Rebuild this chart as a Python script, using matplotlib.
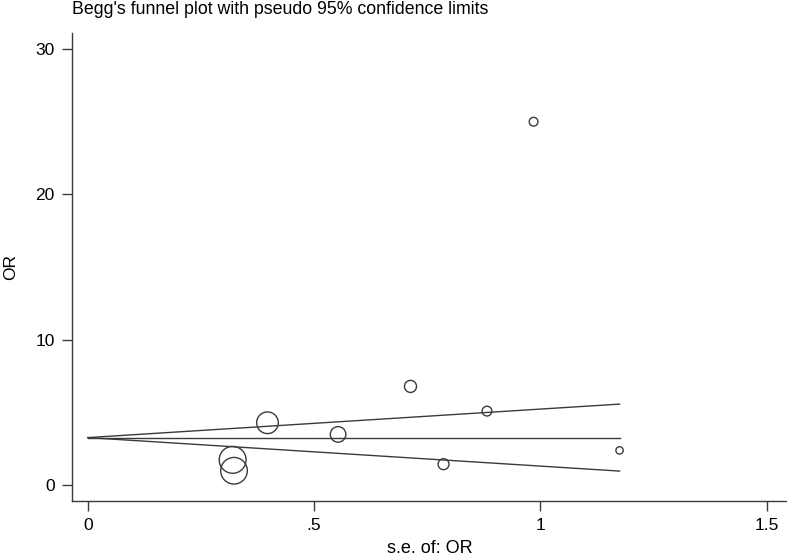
import numpy as np
import matplotlib.pyplot as plt

plt.rcParams['font.family'] = ['Liberation Sans', 'DejaVu Sans']

# study estimates
se = [0.320, 0.323, 0.397, 0.553, 0.713, 0.786, 0.882, 0.985, 1.175]
odds = [1.75, 1.0, 4.3, 3.5, 6.8, 1.45, 5.1, 25.0, 2.4]
pooled = 3.28

x_ticks = [0, 0.5, 1, 1.5]
x_labels = ['0', '.5', '1', '1.5']
y_ticks = [0, 10, 20, 30]

fig = plt.figure(figsize=(7.87, 5.6), dpi=100)
ax = fig.add_axes([72 / 787, 1 - 501 / 560, 1 - 72 / 787, (501 - 33) / 560])

se_arr = np.array(se)
# symbol diameter proportional to 1/se (area ~ weight)
diam_px = 8.6 / se_arr
sizes = (diam_px * 0.72) ** 2
ax.scatter(se, odds, s=sizes, facecolors='none', edgecolors='#3a3a3a',
           linewidths=1.0, zorder=3)

s_line = np.array([0, se_arr.max()])
ax.plot(s_line, [pooled, pooled], color='#3a3a3a', lw=1.0)
ax.plot(s_line, pooled + 1.96 * s_line, color='#3a3a3a', lw=1.0)
ax.plot(s_line, pooled - 1.96 * s_line, color='#3a3a3a', lw=1.0)

ax.set_xlim(-0.035, 1.545)
ax.set_ylim(-1.08, 31.1)
ax.set_xticks(x_ticks)
ax.set_xticklabels(x_labels)
ax.set_yticks(y_ticks)
ax.tick_params(direction='out', length=7.5, width=1, color='#3a3a3a',
               labelsize=12.5, pad=5)
for side in ['top', 'right']:
    ax.spines[side].set_visible(False)
for side in ['left', 'bottom']:
    ax.spines[side].set_color('#3a3a3a')
    ax.spines[side].set_linewidth(1.0)

ax.set_xlabel('s.e. of: OR', fontsize=13, labelpad=5)
ax.set_ylabel('OR', fontsize=12.5, labelpad=12)
fig.text(72 / 787, 1 - 10 / 560, "Begg's funnel plot with pseudo 95% confidence limits",
         fontsize=12.8, va='center', ha='left')

fig.savefig('out.png', dpi=100)
